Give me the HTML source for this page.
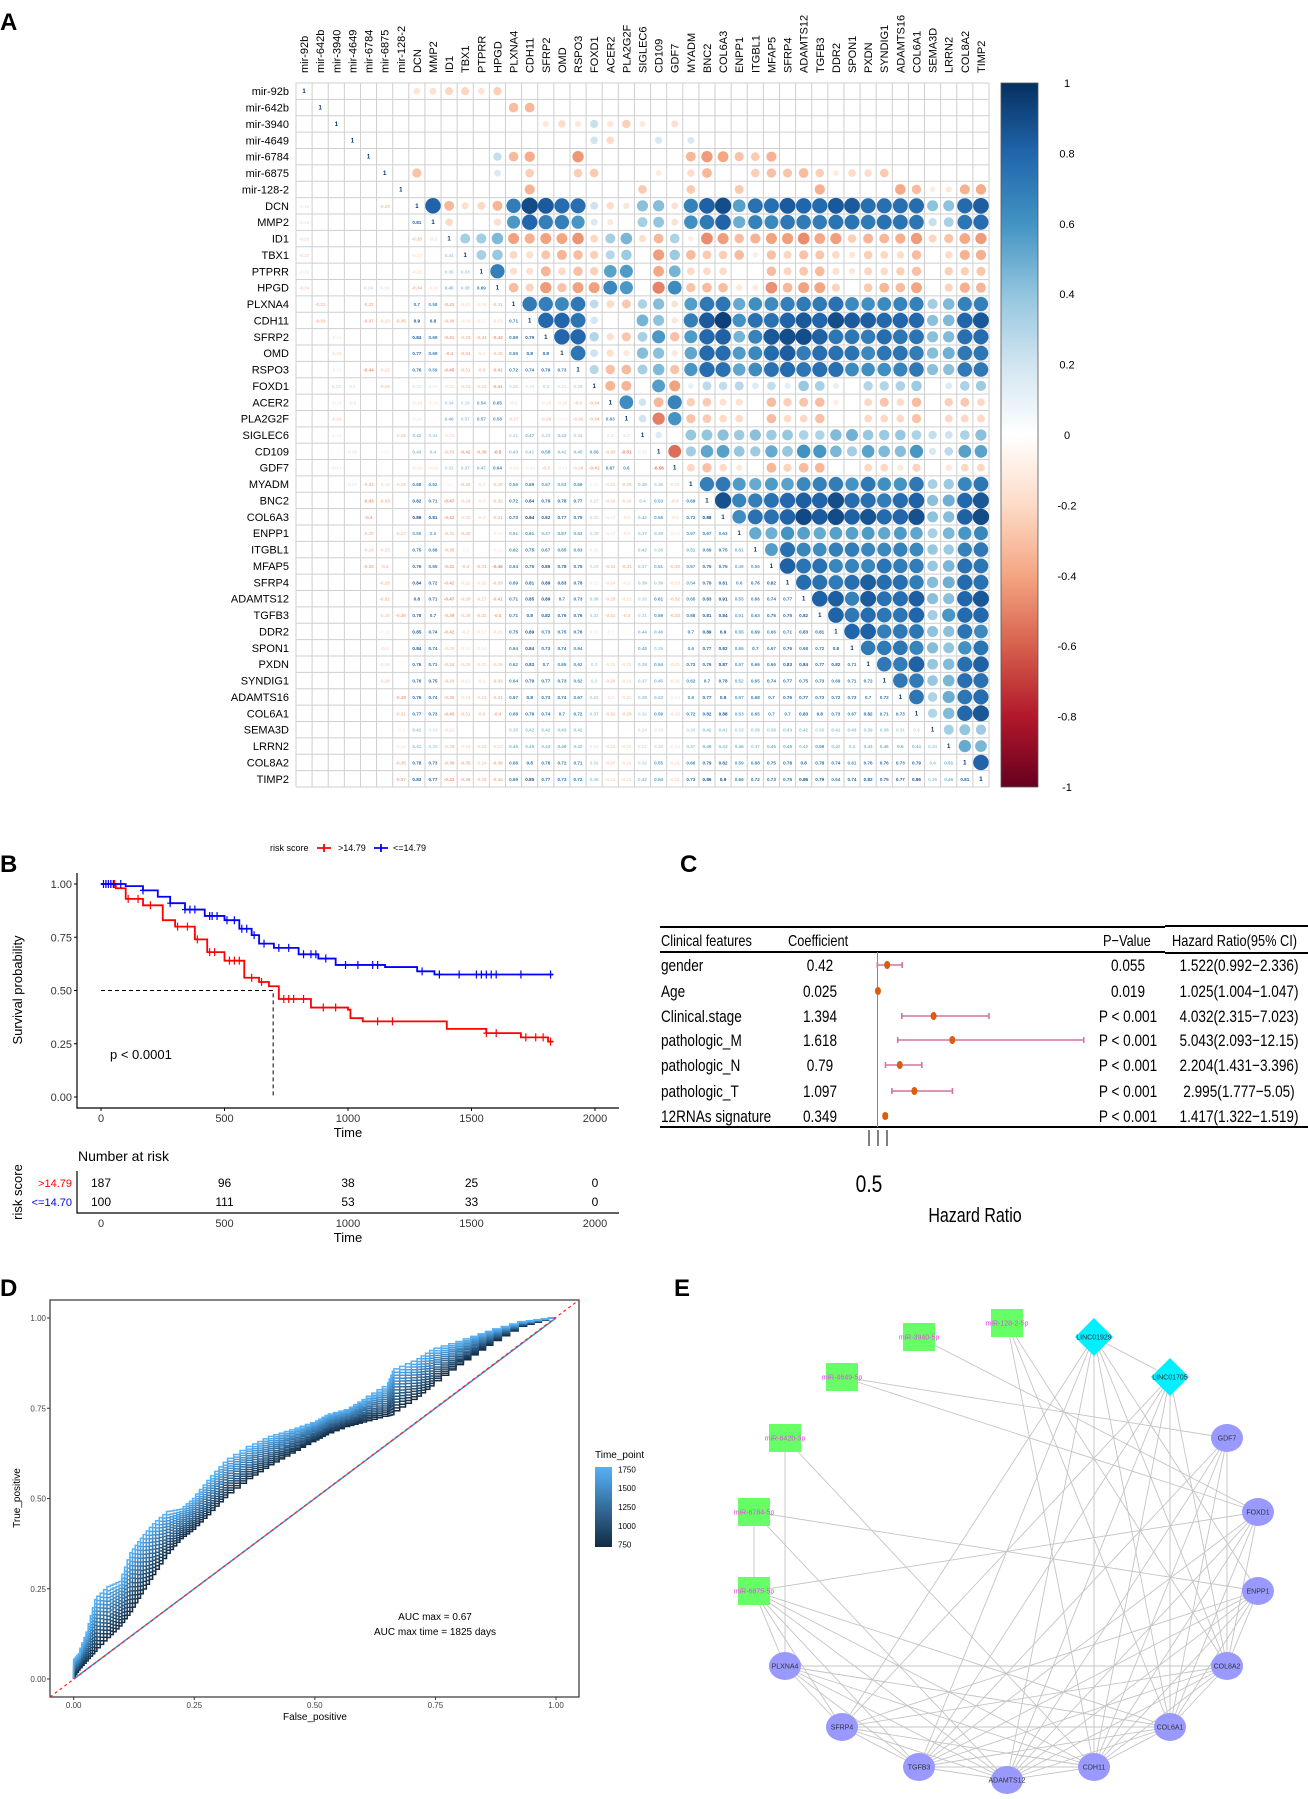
<!DOCTYPE html>
<html><head><meta charset="utf-8">
<style>
html,body{margin:0;padding:0;background:#fff;}
svg{display:block;font-family:"Liberation Sans",Arial,sans-serif;}
</style></head>
<body>
<svg id="fig" width="1308" height="1799" viewBox="0 0 1308 1799" xmlns="http://www.w3.org/2000/svg">
<rect x="0" y="0" width="1308" height="1799" fill="#fff"/>
<text x="0" y="30" font-size="24" font-weight="bold">A</text>
<g id="pa"></g>
<g id="cbar"></g>
<text x="0" y="872" font-size="24" font-weight="bold">B</text>
<g id="pb"></g>
<text x="680" y="872" font-size="24" font-weight="bold">C</text>
<g id="pc"></g>
<text x="0" y="1296" font-size="24" font-weight="bold">D</text>
<g id="pd"></g>
<text x="674" y="1296" font-size="24" font-weight="bold">E</text>
<g id="pe"></g>
</svg>
<script>
// ---------- Panel A data ----------
const corrLabels = ["mir-92b","mir-642b","mir-3940","mir-4649","mir-6784","mir-6875","mir-128-2","DCN","MMP2","ID1","TBX1","PTPRR","HPGD","PLXNA4","CDH11","SFRP2","OMD","RSPO3","FOXD1","ACER2","PLA2G2F","SIGLEC6","CD109","GDF7","MYADM","BNC2","COL6A3","ENPP1","ITGBL1","MFAP5","SFRP4","ADAMTS12","TGFB3","DDR2","SPON1","PXDN","SYNDIG1","ADAMTS16","COL6A1","SEMA3D","LRRN2","COL8A2","TIMP2"];
const corrLower = [
"",
".",
". .",
". . .",
". . . .",
". . . . .",
". . . . . .",
"-0.15 . . . . -0.29 .",
"-0.16 . . . . . . 0.81",
"-0.22 . . . . . . -0.33 -0.2",
"-0.22 . . . . . . -0.17 . 0.34",
"-0.15 . . . . . . -0.21 . 0.35 0.33",
"-0.24 . . . 0.24 0.16 . -0.34 -0.18 0.45 0.38 0.69",
". -0.31 . . -0.32 . . 0.7 0.58 -0.41 -0.21 -0.18 -0.31",
". -0.33 . . -0.37 -0.25 -0.35 0.9 0.8 -0.36 -0.18 -0.17 -0.23 0.71",
". . -0.13 . . . . 0.84 0.69 -0.41 -0.28 -0.34 -0.43 0.69 0.79",
". . -0.19 . . . . 0.77 0.69 -0.4 -0.34 -0.2 -0.29 0.65 0.8 0.8",
". . -0.13 . -0.44 -0.25 . 0.76 0.59 -0.45 -0.31 -0.3 -0.41 0.72 0.74 0.79 0.73",
". . 0.23 0.2 . -0.26 . 0.21 0.17 -0.21 -0.24 -0.24 -0.41 0.26 0.19 0.3 0.21 0.29",
". . -0.14 -0.2 . . . -0.19 -0.13 0.34 0.29 0.54 0.65 -0.2 . -0.18 -0.18 -0.3 -0.34",
". . -0.24 . . . . -0.14 . 0.46 0.37 0.57 0.58 -0.27 . -0.28 -0.13 -0.32 -0.34 0.63",
". . -0.13 . . . -0.26 0.42 0.34 -0.18 . . . 0.31 0.47 0.33 0.43 0.34 . 0.2 0.2",
". . . 0.18 . -0.11 . 0.43 0.4 -0.33 -0.42 -0.39 -0.5 0.43 0.41 0.58 0.42 0.45 0.56 -0.33 -0.51 0.15",
". . -0.17 . . . . -0.16 -0.16 0.32 0.37 0.47 0.64 -0.16 -0.14 -0.3 -0.13 -0.29 -0.41 0.67 0.6 . -0.56",
". . . 0.17 -0.33 -0.19 -0.26 0.68 0.62 -0.1 -0.32 -0.2 -0.29 0.56 0.69 0.57 0.53 0.59 0.11 -0.24 -0.29 0.39 0.35 -0.21",
". . . . -0.43 -0.33 . 0.82 0.71 -0.47 -0.26 -0.2 -0.32 0.72 0.84 0.79 0.78 0.77 0.27 -0.26 -0.26 0.4 0.53 -0.3 0.69",
". . . . -0.4 . . 0.89 0.81 -0.42 -0.25 -0.2 -0.31 0.73 0.94 0.82 0.77 0.75 0.25 -0.17 -0.2 0.42 0.55 -0.2 0.72 0.88",
". . . . -0.29 . -0.27 0.55 0.5 -0.31 -0.32 . -0.13 0.51 0.61 0.47 0.57 0.53 0.28 -0.17 -0.2 0.37 0.39 -0.13 0.57 0.67 0.63",
". . . . -0.26 -0.25 . 0.75 0.68 -0.35 -0.1 . -0.12 0.62 0.75 0.67 0.65 0.63 0.15 . . 0.42 0.36 . 0.51 0.69 0.75 0.51",
". . . . -0.35 -0.3 . 0.76 0.65 -0.41 -0.3 -0.31 -0.46 0.64 0.75 0.85 0.78 0.75 0.25 -0.31 -0.31 0.37 0.51 -0.33 0.57 0.75 0.75 0.49 0.56",
". . . . . -0.28 . 0.84 0.72 -0.42 -0.22 -0.22 -0.33 0.69 0.81 0.89 0.83 0.78 0.12 -0.24 -0.2 0.39 0.39 -0.23 0.54 0.79 0.81 0.6 0.76 0.82",
". . . . . -0.32 . 0.8 0.71 -0.47 -0.29 -0.27 -0.41 0.71 0.85 0.89 0.7 0.73 0.38 -0.28 -0.21 0.32 0.61 -0.32 0.65 0.83 0.91 0.55 0.66 0.74 0.77",
". . . . . -0.25 -0.36 0.78 0.7 -0.39 -0.28 -0.32 -0.4 0.71 0.8 0.82 0.76 0.76 0.33 -0.31 -0.3 0.31 0.59 -0.33 0.68 0.81 0.84 0.51 0.63 0.75 0.75 0.82",
". . . . . -0.11 . 0.85 0.74 -0.42 -0.2 -0.17 -0.23 0.75 0.89 0.73 0.75 0.76 0.12 -0.1 . 0.44 0.46 . 0.7 0.89 0.9 0.55 0.69 0.66 0.71 0.83 0.81",
". . . . . -0.2 . 0.84 0.74 -0.25 -0.14 -0.14 . 0.64 0.84 0.73 0.74 0.64 . . . 0.48 0.35 . 0.6 0.77 0.82 0.55 0.7 0.67 0.76 0.68 0.72 0.8",
". . . . . -0.19 . 0.76 0.71 -0.34 -0.25 -0.22 -0.26 0.62 0.83 0.7 0.65 0.62 0.3 -0.21 -0.21 0.38 0.54 -0.21 0.73 0.76 0.87 0.57 0.66 0.66 0.83 0.84 0.77 0.82 0.71",
". . . . . -0.26 . 0.76 0.75 -0.33 -0.21 -0.2 -0.33 0.64 0.79 0.77 0.73 0.62 0.3 -0.28 -0.21 0.37 0.45 -0.21 0.62 0.7 0.78 0.52 0.65 0.74 0.77 0.75 0.73 0.69 0.71 0.72",
". . . . . . -0.38 0.76 0.74 -0.36 -0.19 -0.24 -0.31 0.67 0.8 0.73 0.74 0.67 0.32 -0.2 -0.21 0.38 0.43 -0.13 0.6 0.77 0.8 0.57 0.68 0.7 0.76 0.77 0.73 0.72 0.73 0.7 0.72",
". . . . . . -0.31 0.77 0.73 -0.43 -0.31 -0.3 -0.4 0.68 0.79 0.74 0.7 0.72 0.37 -0.31 -0.29 0.32 0.59 -0.23 0.72 0.82 0.88 0.53 0.65 0.7 0.7 0.83 0.8 0.73 0.67 0.82 0.71 0.73",
". . . . . . -0.1 0.41 0.23 -0.22 . . . 0.35 0.42 0.42 0.43 0.42 . . . 0.24 0.18 . 0.33 0.42 0.41 0.33 0.38 0.38 0.43 0.42 0.35 0.41 0.43 0.39 0.38 0.31 0.3",
". . . . . . -0.13 0.41 0.33 -0.29 -0.19 -0.24 -0.23 0.45 0.45 0.44 0.49 0.42 0.16 -0.24 -0.21 0.21 0.26 -0.14 0.37 0.49 0.43 0.46 0.37 0.46 0.49 0.42 0.59 0.42 0.4 0.44 0.46 0.5 0.44 0.34",
". . . . . . -0.35 0.78 0.73 -0.39 -0.35 -0.24 -0.36 0.68 0.8 0.76 0.72 0.71 0.32 -0.27 -0.21 0.32 0.55 -0.21 0.66 0.79 0.82 0.59 0.68 0.75 0.78 0.8 0.78 0.74 0.61 0.76 0.76 0.73 0.79 0.4 0.51",
". . . . . . -0.37 0.83 0.77 -0.43 -0.36 -0.28 -0.34 0.69 0.85 0.77 0.73 0.72 0.36 -0.21 -0.21 0.42 0.54 -0.21 0.73 0.86 0.9 0.66 0.72 0.73 0.75 0.86 0.79 0.64 0.74 0.82 0.75 0.77 0.86 0.36 0.46 0.81"
];
const cbarTicks = [1,0.8,0.6,0.4,0.2,0,-0.2,-0.4,-0.6,-0.8,-1];

// ---------- Panel B data ----------
const kmHighT = [0,60,100,170,250,300,380,430,500,580,640,680,720,800,850,1000,1010,1060,1400,1560,1700,1810,1830];
const kmHighS = [1,0.98,0.93,0.9,0.83,0.8,0.74,0.68,0.64,0.56,0.54,0.52,0.46,0.46,0.42,0.41,0.37,0.355,0.32,0.30,0.28,0.26,0.26];
const kmLowT = [0,100,170,230,280,340,420,500,560,610,640,700,800,880,950,1150,1280,1350,1830];
const kmLowS = [1,0.99,0.97,0.94,0.91,0.88,0.85,0.83,0.79,0.76,0.72,0.70,0.67,0.65,0.62,0.61,0.59,0.575,0.575];
const censorHigh = [20,40,55,110,150,200,310,350,390,440,460,520,540,560,610,650,740,760,780,820,900,950,1120,1180,1560,1600,1720,1760,1790,1820];
const censorLow = [10,20,30,40,50,80,170,280,340,360,380,440,450,470,510,540,570,590,620,660,720,760,820,850,870,910,990,1040,1100,1120,1300,1370,1450,1520,1540,1560,1580,1600,1700,1820];
const riskTimes = [0,500,1000,1500,2000];
const riskHigh = [187,96,38,25,0];
const riskLow = [100,111,53,33,0];

// ---------- Panel C data ----------
const featNames = ["gender","Age","Clinical.stage","pathologic_M","pathologic_N","pathologic_T","12RNAs signature"];
const featCoef = ["0.42","0.025","1.394","1.618","0.79","1.097","0.349"];
const featP = ["0.055","0.019","P < 0.001","P < 0.001","P < 0.001","P < 0.001","P < 0.001"];
const featHR = [1.522,1.025,4.032,5.043,2.204,2.995,1.417];
const featLo = [0.992,1.004,2.315,2.093,1.431,1.777,1.322];
const featHi = [2.336,1.047,7.023,12.15,3.396,5.05,1.519];
const featHRtxt = ["1.522(0.992−2.336)","1.025(1.004−1.047)","4.032(2.315−7.023)","5.043(2.093−12.15)","2.204(1.431−3.396)","2.995(1.777−5.05)","1.417(1.322−1.519)"];

// ---------- Panel D data ----------
const rocLightFpr = [0,0,0.013,0.03,0.048,0.076,0.1,0.122,0.144,0.17,0.2,0.227,0.253,0.284,0.319,0.371,0.415,0.459,0.502,0.528,0.572,0.607,0.651,0.664,0.712,0.747,0.808,0.869,0.939,1];
const rocLightTpr = [0,0.05,0.07,0.13,0.22,0.256,0.27,0.35,0.39,0.43,0.464,0.47,0.5,0.55,0.6,0.644,0.672,0.69,0.71,0.73,0.746,0.774,0.81,0.852,0.88,0.91,0.935,0.963,0.99,1];
const rocDarkFpr = [0,0.013,0.057,0.11,0.153,0.214,0.258,0.328,0.397,0.459,0.546,0.677,0.764,0.852,0.939,1];
const rocDarkTpr = [0,0.025,0.09,0.16,0.256,0.376,0.42,0.515,0.58,0.626,0.69,0.737,0.83,0.912,0.977,1];
const rocTimes = [750,820,890,960,1030,1100,1170,1240,1310,1380,1450,1520,1590,1660,1750];
const rocBlend = [0,0.07,0.14,0.21,0.28,0.35,0.42,0.5,0.57,0.64,0.71,0.78,0.85,0.92,1];
const rocLegendTicks = [750,1000,1250,1500,1750];

// ---------- helpers ----------
const NS="http://www.w3.org/2000/svg";
function mk(tag, attrs, parent){const e=document.createElementNS(NS,tag);for(const k in attrs)e.setAttribute(k,attrs[k]);parent.appendChild(e);return e;}
const stops=[[-1,[103,0,31]],[-0.8,[178,24,43]],[-0.6,[214,96,77]],[-0.4,[244,165,130]],[-0.2,[253,219,199]],[0,[255,255,255]],[0.2,[209,229,240]],[0.4,[146,197,222]],[0.6,[67,147,195]],[0.8,[33,102,172]],[1,[5,48,97]]];
function rdbu(v){for(let i=0;i<stops.length-1;i++){const a=stops[i],b=stops[i+1];if(v>=a[0]&&v<=b[0]){const t=(v-a[0])/(b[0]-a[0]);const c=a[1].map((x,k)=>Math.round(x+(b[1][k]-x)*t));return `rgb(${c[0]},${c[1]},${c[2]})`;}}return "#fff";}

// ---------- Panel A ----------
(function(){
 const g=document.getElementById('pa');
 const n=corrLabels.length, X0=296, Y0=83, W=693, H=704, cw=W/n, ch=H/n;
 const M=corrLower.map(s=>s.trim()===""?[]:s.trim().split(/\s+/).map(t=>t==="."?null:parseFloat(t)));
 function val(i,j){if(i===j)return 1;return i>j?M[i][j]:M[j][i];}
 const sx=j=>X0+j*cw, sy=i=>Y0+i*ch;
 for(let i=0;i<=n;i++){
  const h=mk('line',{x1:X0,x2:X0+W,y1:sy(i),y2:sy(i),stroke:'#cfcfcf','stroke-width':1},g);
  
  const v=mk('line',{x1:sx(i),x2:sx(i),y1:Y0,y2:Y0+H,stroke:'#cfcfcf','stroke-width':1},g);
  
 }
 for(let i=0;i<n;i++){
  const rl=mk('text',{x:X0-7,y:sy(i)+ch/2+4,'font-size':11,'text-anchor':'end'},g);rl.textContent=corrLabels[i];
  
  const cx=sx(i)+cw/2+4, cy=Y0-10;
  const cl=mk('text',{x:cx,y:cy,'font-size':11,transform:`rotate(-90 ${cx} ${cy})`},g);cl.textContent=corrLabels[i];
  
  for(let j=0;j<n;j++){
   const v=val(i,j); if(v===null||v===undefined)continue;
   if(j>i){
    const c=mk('circle',{cx:sx(j)+cw/2,cy:sy(i)+ch/2,r:8.6*Math.sqrt(Math.abs(v)),fill:rdbu(v)},g);
    
   } else {
    const t=mk('text',{x:sx(j)+cw/2,y:sy(i)+ch/2+2,'font-size':j===i?6:4.6,'text-anchor':'middle',fill:j===i?'#053061':rdbu(v),'font-weight':'bold'},g);
    t.textContent=j===i?"1":String(v);
    
   }
  }
 }
 const cb=document.getElementById('cbar');
 const defs=mk('defs',{},cb);
 const lg=mk('linearGradient',{id:'rdbuG',x1:0,y1:0,x2:0,y2:1},defs);
 stops.slice().reverse().forEach(s=>{mk('stop',{offset:((1-s[0])/2*100)+'%','stop-color':rdbu(s[0])},lg);});
 const r=mk('rect',{x:1001,y:83,width:37,height:704,fill:'url(#rdbuG)',stroke:'#555','stroke-width':0.8},cb);
 
 cbarTicks.forEach(t=>{const y=83+(1-t)/2*704;const tx=mk('text',{x:1067,y:y+4,'font-size':11,'text-anchor':'middle'},cb);tx.textContent=String(t);
  });
})();

// ---------- Panel B ----------
(function(){
 const g=document.getElementById('pb');
 const xs=t=>101+t/2000*494, ys=s=>1097-s*213;
 const ax=mk('path',{d:'M77 873 V1108 H619',fill:'none',stroke:'#000','stroke-width':1.2},g);
 
 [0,0.25,0.5,0.75,1].forEach(s=>{mk('line',{x1:74,x2:77,y1:ys(s),y2:ys(s),stroke:'#000'},g);
  const t=mk('text',{x:72,y:ys(s)+4,'font-size':11,'text-anchor':'end',fill:'#333'},g);t.textContent=s.toFixed(2);
  });
 riskTimes.forEach(tm=>{mk('line',{x1:xs(tm),x2:xs(tm),y1:1108,y2:1111,stroke:'#000'},g);
  const t=mk('text',{x:xs(tm),y:1122,'font-size':11,'text-anchor':'middle',fill:'#333'},g);t.textContent=tm;
  });
 let t=mk('text',{x:348,y:1137,'font-size':13,'text-anchor':'middle'},g);t.textContent='Time';
 
 t=mk('text',{x:22,y:990,'font-size':13,'text-anchor':'middle',transform:'rotate(-90 22 990)'},g);t.textContent='Survival probability';
 
 let l=mk('path',{d:`M${xs(0)} ${ys(0.5)} H${xs(697)} V${ys(0)}`,fill:'none',stroke:'#000','stroke-dasharray':'4 3','stroke-width':1},g);
 
 function step(T,S){let d=`M${xs(T[0])} ${ys(S[0])}`;for(let i=1;i<T.length;i++){d+=` H${xs(T[i])} V${ys(S[i])}`;}return d;}
 function survAt(T,S,tt){let s=S[0];for(let i=0;i<T.length;i++){if(T[i]<=tt)s=S[i];}return s;}
 const series=[[kmHighT,kmHighS,censorHigh,'#ff0000','km-curve-high'],[kmLowT,kmLowS,censorLow,'#0000ff','km-curve-low']];
 series.forEach(([T,S,C,col,nm])=>{
  const p=mk('path',{d:step(T,S),fill:'none',stroke:col,'stroke-width':1.8},g);
  
  C.forEach(c=>{const x=xs(c),y=ys(survAt(T,S,c));const m=mk('path',{d:`M${x} ${y-4} V${y+4} M${x-3} ${y} H${x+3}`,stroke:col,'stroke-width':1.2},g);
   });
 });
 t=mk('text',{x:110,y:1059,'font-size':13},g);t.textContent='p < 0.0001';
 
 t=mk('text',{x:270,y:851,'font-size':9},g);t.textContent='risk score';
 
 [[324,'#ff0000','>14.79',338],[381,'#0000ff','<=14.79',393]].forEach(([x,c,lab,tx])=>{
  const m=mk('path',{d:`M${x-7} 848 H${x+7} M${x} 844 V852`,stroke:c,'stroke-width':1.8},g);
  
  const tt=mk('text',{x:tx,y:851,'font-size':9},g);tt.textContent=lab;
  });
 t=mk('text',{x:78,y:1161,'font-size':14},g);t.textContent='Number at risk';
 
 const ra=mk('path',{d:'M77 1171 V1213 H619',fill:'none',stroke:'#000','stroke-width':1.2},g);
 
 [[riskHigh,1187,'#ff0000','>14.79'],[riskLow,1206,'#0000ff','<=14.70']].forEach(([arr,y,c,lab])=>{
  const lt=mk('text',{x:72,y:y,'font-size':11,'text-anchor':'end',fill:c},g);lt.textContent=lab;
  
  arr.forEach((v,i)=>{const tt=mk('text',{x:xs(riskTimes[i]),y:y,'font-size':12,'text-anchor':'middle'},g);tt.textContent=v;
   });});
 riskTimes.forEach(tm=>{const tt=mk('text',{x:xs(tm),y:1227,'font-size':11,'text-anchor':'middle',fill:'#333'},g);tt.textContent=tm;
  });
 t=mk('text',{x:348,y:1242,'font-size':13,'text-anchor':'middle'},g);t.textContent='Time';
 
 t=mk('text',{x:22,y:1192,'font-size':13,'text-anchor':'middle',transform:'rotate(-90 22 1192)'},g);t.textContent='risk score';
 
})();

// ---------- Panel C ----------
(function(){
 const g=document.getElementById('pc');
 const hx=v=>877.5+(v-1)*18.5;
 const rowY=[965,991,1016,1040,1065,1091,1116];
 const SX=0.8;
 function ntext(s,x,y,size,anchor){
  const t=mk('text',{x:0,y:0,'font-size':size,'text-anchor':anchor,transform:`translate(${x},${y}) scale(${SX},1)`},g);
  t.textContent=s;return t;}
 let l=mk('path',{d:'M660 927 H1165 M1165 926 H1308 M660 952 H1165 M1165 953 H1308 M660 1127 H1308',stroke:'#000','stroke-width':2,fill:'none'},g);
 
 [['Clinical features',661],['Coefficient',788],['P−Value',1103],['Hazard Ratio(95% CI)',1172]].forEach(([s,x])=>{
  const t=ntext(s,x,946,16,'start');
  });
 l=mk('line',{x1:hx(1),x2:hx(1),y1:952,y2:1127,stroke:'#888','stroke-width':1},g);
 
 featNames.forEach((nm,i)=>{
  const y=rowY[i]+6;
  let t=ntext(nm,661,y,17,'start');
  
  t=ntext(featCoef[i],820,y,17,'middle');
  
  t=ntext(featP[i],1128,y,17,'middle');
  
  t=ntext(featHRtxt[i],1239,y,17,'middle');
  
  const yy=rowY[i];
  const ci=mk('path',{d:`M${hx(featLo[i])} ${yy} H${hx(featHi[i])} M${hx(featLo[i])} ${yy-3} V${yy+3} M${hx(featHi[i])} ${yy-3} V${yy+3}`,stroke:'#d3739e','stroke-width':1.6,fill:'none'},g);
  
  const pt=mk('ellipse',{cx:hx(featHR[i]),cy:yy,rx:3,ry:4,fill:'#d95f0e'},g);
  
 });
 l=mk('path',{d:'M869 1130 V1146 M878 1130 V1146 M887 1130 V1146',stroke:'#000','stroke-width':1},g);
 
 let t=ntext('0.5',869,1192,24,'middle');
 
 t=ntext('Hazard Ratio',975,1222,20,'middle');
 
})();

// ---------- Panel D ----------
(function(){
 const g=document.getElementById('pd');
 const xs=v=>73.7+v*482.3, ys=v=>1679-v*361;
 let r=mk('rect',{x:50,y:1300,width:529,height:397,fill:'#fff',stroke:'#333','stroke-width':1.2},g);
 
 const cp=mk('clipPath',{id:'dclip'},g);mk('rect',{x:50,y:1300,width:529,height:397},cp);
 [0,0.25,0.5,0.75,1].forEach(v=>{
  mk('line',{x1:47,x2:50,y1:ys(v),y2:ys(v),stroke:'#333'},g);
  let t=mk('text',{x:46,y:ys(v)+3,'font-size':8,'text-anchor':'end',fill:'#444'},g);t.textContent=v.toFixed(2);
  
  mk('line',{x1:xs(v),x2:xs(v),y1:1697,y2:1700,stroke:'#333'},g);
  t=mk('text',{x:xs(v),y:1708,'font-size':8,'text-anchor':'middle',fill:'#444'},g);t.textContent=v.toFixed(2);
  
 });
 let t=mk('text',{x:315,y:1720,'font-size':10,'text-anchor':'middle'},g);t.textContent='False_positive';
 
 t=mk('text',{x:20,y:1498,'font-size':10,'text-anchor':'middle',transform:'rotate(-90 20 1498)'},g);t.textContent='True_positive';
 
 const cg=mk('g',{'clip-path':'url(#dclip)'},g);
 function interp(F,T,x){for(let i=0;i<F.length-1;i++){if(x>=F[i]&&x<=F[i+1]){const d=F[i+1]-F[i];return d===0?T[i+1]:T[i]+(T[i+1]-T[i])*(x-F[i])/d;}}return 1;}
 function lerpC(a,b,w){return `rgb(${a.map((x,k)=>Math.round(x+(b[k]-x)*w)).join(',')})`;}
 const SUB=4;
 rocTimes.forEach((tm,k)=>{
  const w=rocBlend[k];
  let d='';let pf=0,pt=0;
  rocLightFpr.forEach((f,i)=>{
   const tl=rocLightTpr[i], td=interp(rocDarkFpr,rocDarkTpr,f);
   const tp=td+(tl-td)*w;
   if(i===0){d='M'+xs(f).toFixed(1)+' '+ys(tp).toFixed(1);}
   else{for(let s=1;s<=SUB;s++){d+=' V'+ys(pt+(tp-pt)*s/SUB).toFixed(1)+' H'+xs(pf+(f-pf)*s/SUB).toFixed(1);}}
   pf=f;pt=tp;
  });
  const p=mk('path',{d:d,fill:'none',stroke:lerpC([19,43,67],[86,177,247],w),'stroke-width':1.5},cg);
  
 });
 let l=mk('line',{x1:xs(0),y1:ys(0),x2:xs(1),y2:ys(1),stroke:'#3b8fd8','stroke-width':1.5},cg);
 
 l=mk('line',{x1:50,y1:1697,x2:579,y2:1300,stroke:'#ff2222','stroke-width':1.2,'stroke-dasharray':'3 3'},cg);
 
 t=mk('text',{x:435,y:1620,'font-size':10,'text-anchor':'middle'},g);t.textContent='AUC max = 0.67';
 
 t=mk('text',{x:435,y:1635,'font-size':10,'text-anchor':'middle'},g);t.textContent='AUC max time = 1825 days';
 
 t=mk('text',{x:595,y:1458,'font-size':10},g);t.textContent='Time_point';
 
 const defs=mk('defs',{},g);const lg=mk('linearGradient',{id:'tpG',x1:0,y1:0,x2:0,y2:1},defs);
 mk('stop',{offset:'0%','stop-color':'#56b1f7'},lg);mk('stop',{offset:'100%','stop-color':'#132b43'},lg);
 r=mk('rect',{x:595,y:1467,width:17,height:80,fill:'url(#tpG)'},g);
 
 rocLegendTicks.forEach(v=>{const y=1547-(v-720)/(1780-720)*80;
  const tt=mk('text',{x:618,y:y+3,'font-size':8},g);tt.textContent=v;
  });
})();

// ---------- Panel E ----------
(function(){
 const g=document.getElementById('pe');
 const nodes={
  "miR-128-2-5p":[1007,1323,'mi'],"miR-3940-5p":[919,1337,'mi'],"miR-4649-5p":[842,1377,'mi'],"miR-642b-3p":[785,1438,'mi'],"miR-6784-5p":[754,1512,'mi'],"miR-6875-5p":[754,1591,'mi'],
  "LINC01929":[1094,1337,'lnc'],"LINC01705":[1170,1377,'lnc'],
  "GDF7":[1227,1438,'g'],"FOXD1":[1258,1512,'g'],"ENPP1":[1258,1591,'g'],"COL8A2":[1227,1666,'g'],"COL6A1":[1170,1727,'g'],"CDH11":[1094,1767,'g'],"ADAMTS12":[1007,1780,'g'],"TGFB3":[919,1767,'g'],"SFRP4":[842,1727,'g'],"PLXNA4":[785,1666,'g']};
 const edges=[["miR-3940-5p","FOXD1"],["miR-4649-5p","GDF7"],["miR-4649-5p","FOXD1"],["miR-128-2-5p","COL8A2"],["miR-128-2-5p","COL6A1"],["miR-128-2-5p","CDH11"],
  ["LINC01929","LINC01705"],["LINC01929","SFRP4"],["LINC01929","TGFB3"],["LINC01929","ADAMTS12"],["LINC01929","CDH11"],["LINC01929","COL6A1"],["LINC01929","COL8A2"],["LINC01929","ENPP1"],
  ["LINC01705","TGFB3"],["LINC01705","ADAMTS12"],["LINC01705","CDH11"],["LINC01705","COL6A1"],["LINC01705","COL8A2"],["LINC01705","SFRP4"],
  ["miR-642b-3p","PLXNA4"],["miR-642b-3p","CDH11"],["miR-6784-5p","ENPP1"],["miR-6784-5p","ADAMTS12"],["miR-6784-5p","miR-6875-5p"],
  ["miR-6875-5p","FOXD1"],["miR-6875-5p","PLXNA4"],["miR-6875-5p","SFRP4"],["miR-6875-5p","TGFB3"],["miR-6875-5p","ADAMTS12"],["miR-6875-5p","CDH11"],["miR-6875-5p","COL6A1"],
  ["GDF7","TGFB3"],["GDF7","ADAMTS12"],["GDF7","CDH11"],["GDF7","COL6A1"],["GDF7","COL8A2"],
  ["FOXD1","TGFB3"],["FOXD1","ADAMTS12"],["FOXD1","CDH11"],["FOXD1","COL6A1"],["FOXD1","COL8A2"],
  ["ENPP1","TGFB3"],["ENPP1","ADAMTS12"],["ENPP1","CDH11"],["ENPP1","COL6A1"],["ENPP1","COL8A2"],["ENPP1","SFRP4"],
  ["PLXNA4","COL8A2"],["PLXNA4","SFRP4"],["PLXNA4","TGFB3"],["PLXNA4","ADAMTS12"],["PLXNA4","CDH11"],["PLXNA4","COL6A1"],
  ["SFRP4","TGFB3"],["SFRP4","ADAMTS12"],["SFRP4","CDH11"],["SFRP4","COL6A1"],["SFRP4","COL8A2"],
  ["TGFB3","ADAMTS12"],["TGFB3","CDH11"],["TGFB3","COL6A1"],["TGFB3","COL8A2"],
  ["ADAMTS12","CDH11"],["ADAMTS12","COL6A1"],["ADAMTS12","COL8A2"],["CDH11","COL6A1"],["CDH11","COL8A2"],["COL6A1","COL8A2"]];
 edges.forEach(([a,b])=>{const A=nodes[a],B=nodes[b];
  const l=mk('line',{x1:A[0],y1:A[1],x2:B[0],y2:B[1],stroke:'#c4c4c4','stroke-width':0.9},g);
  });
 for(const nm in nodes){const [x,y,tp]=nodes[nm];let s;
  if(tp==='mi'){s=mk('rect',{x:x-16,y:y-14,width:32,height:28,fill:'#66ff66'},g);}
  else if(tp==='lnc'){s=mk('polygon',{points:`${x},${y-19} ${x+19},${y} ${x},${y+19} ${x-19},${y}`,fill:'#00f0ff'},g);}
  else {s=mk('ellipse',{cx:x,cy:y,rx:16,ry:14,fill:'#9999ff'},g);}
  
  const t=mk('text',{x:x,y:y+2.5,'font-size':7,'text-anchor':'middle',fill:tp==='mi'?'#ee44ee':'#333'},g);t.textContent=nm;
  
 }
})();
</script>
</body></html>
